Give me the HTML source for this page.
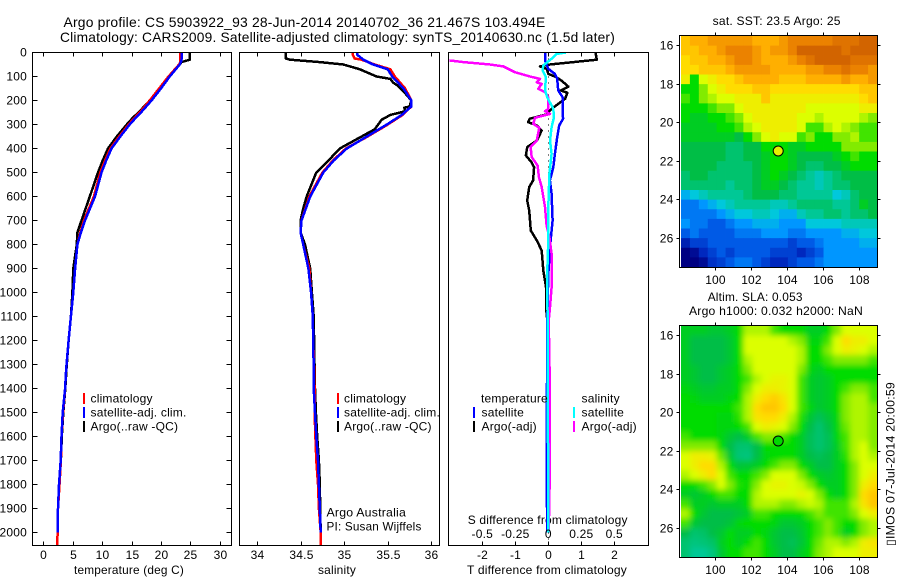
<!DOCTYPE html>
<html>
<head>
<meta charset="utf-8">
<title>Argo profile</title>
<style>
html,body{margin:0;padding:0;background:#fff;}
svg{display:block;}
text{font-family:"Liberation Sans","DejaVu Sans",sans-serif;font-size:12px;fill:#000;letter-spacing:0.2px;}
</style>
</head>
<body>
<svg id="chart" xmlns="http://www.w3.org/2000/svg" width="900" height="580" viewBox="0 0 900 580">
<defs>
<clipPath id="clip-t"><rect x="32.5" y="52.5" width="199" height="493"/></clipPath>
<clipPath id="clip-s"><rect x="239.5" y="52.5" width="200" height="493"/></clipPath>
<clipPath id="clip-d"><rect x="448.5" y="52.5" width="200" height="493"/></clipPath>
<clipPath id="clip-m1"><rect x="681" y="36" width="196" height="231"/></clipPath>
<clipPath id="clip-m2"><rect x="681" y="326" width="196" height="231"/></clipPath>
<filter id="soft" x="-10%" y="-10%" width="120%" height="120%"><feGaussianBlur stdDeviation="3"/></filter>
</defs>
<text x="63.5" y="27" style="font-size:14px" textLength="482" lengthAdjust="spacingAndGlyphs">Argo profile: CS 5903922_93 28-Jun-2014 20140702_36 21.467S 103.494E</text>
<text x="60" y="42" style="font-size:14px" textLength="555" lengthAdjust="spacingAndGlyphs">Climatology: CARS2009. Satellite-adjusted climatology: synTS_20140630.nc (1.5d later)</text>
<text x="74" y="574" textLength="110" lengthAdjust="spacingAndGlyphs">temperature (deg C)</text>
<text x="318" y="574" textLength="38" lengthAdjust="spacingAndGlyphs">salinity</text>
<text x="467" y="574" textLength="160" lengthAdjust="spacingAndGlyphs">T difference from climatology</text>
<text x="467.7" y="524" textLength="160" lengthAdjust="spacingAndGlyphs">S difference from climatology</text>
<text x="326.5" y="516.5" textLength="79.5" lengthAdjust="spacingAndGlyphs">Argo Australia</text>
<text x="326.5" y="530.5" textLength="95" lengthAdjust="spacingAndGlyphs">PI: Susan Wijffels</text>
<text x="712.7" y="25" textLength="128" lengthAdjust="spacingAndGlyphs">sat. SST: 23.5 Argo: 25</text>
<text x="707.7" y="301" textLength="95" lengthAdjust="spacingAndGlyphs">Altim. SLA: 0.053</text>
<text x="689" y="315" textLength="174" lengthAdjust="spacingAndGlyphs">Argo h1000: 0.032 h2000: NaN</text>
<text transform="translate(894.5,546) rotate(-90)" textLength="164" lengthAdjust="spacingAndGlyphs">▯IMOS 07-Jul-2014 20:00:59</text>
</svg>
<script>
// ---- axis tick labels ----
const depthTicks = [0,100,200,300,400,500,600,700,800,900,1000,1100,1200,1300,1400,1500,1600,1700,1800,1900,2000];
const tempTicks = [0,5,10,15,20,25,30];
const salTicks = ['34','34.5','35','35.5','36'];
const tDiffTicks = ['-2','-1','0','1','2'];
const sDiffTicks = ['-0.5','-0.25','0','0.25','0.5'];
const lonTicks = [100,102,104,106,108];
const latTicks = [16,18,20,22,24,26];

// ---- temperature panel ----
const tempDepths = [0,25,30,40,50,100,150,200,250,270,300,350,400,450,500,600,700,750,800,900,1000,1100,1200,1317,1400,1500,1600,1700,1800,1900,2000];
const tempArgo = [24.9,24.9,24.9,23.5,23.2,21.5,19.9,18.1,16.2,15.3,14.2,12.5,11,10.1,9.3,7.9,6.5,5.8,5.7,5.1,4.95,4.7,4.3,3.95,3.75,3.4,3.15,3,2.67,2.5,2.45];
const tempSat = [23.5,23.5,23.5,23.4,23.2,21.5,20,18.4,16.6,15.8,14.7,13.1,11.6,10.7,9.9,8.8,7.1,6.4,5.8,5.4,5.1,4.7,4.3,3.9,3.7,3.3,3.1,2.96,2.67,2.5,2.45];
const tempClimDepths = [0,25,30,40,50,100,150,200,250,270,300,350,400,450,500,600,700,750,800,900,1000,1100,1200,1317,1400,1500,1600,1700,1800,1900,2000,2054];
const tempClim = [23.3,23.3,23.3,23.3,23.1,21.3,19.7,18.1,16.4,15.6,14.5,12.9,11.4,10.5,9.7,8.6,6.9,6.3,5.8,5.4,5.1,4.7,4.3,3.9,3.7,3.35,3.1,3,2.75,2.5,2.45,2.33];

// ---- salinity panel ----
const salDepths = [0,10,30,50,70,100,150,200,225,260,300,350,400,450,500,600,700,750,800,900,1000,1100,1200,1317,1400,1500,1600,1700,1800,1900,2000];
const salSat = [35.15,35.15,35.22,35.33,35.5,35.55,35.68,35.77,35.77,35.66,35.49,35.26,35.03,34.88,34.76,34.61,34.51,34.5,34.53,34.59,34.62,34.64,34.645,34.65,34.65,34.665,34.68,34.7,34.71,34.72,34.73];
const salClimDepths = [0,10,25,30,50,70,100,150,200,225,260,300,350,400,450,500,600,700,750,800,900,1000,1100,1200,1317,1400,1500,1600,1700,1800,1900,2000,2054];
const salClim = [35.1,35.1,35.12,35.2,35.35,35.53,35.58,35.7,35.77,35.77,35.67,35.5,35.27,35.02,34.87,34.75,34.6,34.51,34.5,34.53,34.6,34.62,34.64,34.645,34.655,34.66,34.66,34.67,34.68,34.7,34.71,34.73,34.73];
const salArgoDepths = [0,25,30,40,50,70,100,110,125,140,170,200,225,230,245,260,280,320,350,400,450,500,600,650,700,750,800,900,1000,1100,1200,1317,1400,1500,1600,1700,1800,1900,2000];
const salArgo = [34.33,34.33,34.38,34.72,34.99,35.18,35.37,35.53,35.56,35.62,35.7,35.77,35.75,35.69,35.7,35.53,35.43,35.35,35.2,34.95,34.82,34.68,34.57,34.53,34.5,34.5,34.55,34.61,34.63,34.65,34.655,34.66,34.665,34.675,34.69,34.71,34.72,34.725,34.73];

// ---- difference panel ----
const tArgoDepths = [0,30,40,50,58,68,89,100,117,142,158,168,193,214,235,249,258,276,290,304,325,367,394,429,457,478,533,561,617,658,742,783,825,908,978,1061,1117,1400,2000];
const tArgoDiff = [1.43,1.47,0.76,0.05,-0.25,-0.05,0,0.2,0.4,0.61,0.38,0.58,0.51,0.3,0.1,0,-0.05,-0.56,-0.61,-0.35,-0.2,-0.35,-0.64,-0.68,-0.51,-0.43,-0.46,-0.58,-0.64,-0.58,-0.53,-0.35,-0.2,-0.15,-0.07,-0.07,-0.03,-0.02,-0.02];
const tSatDepths = [0,33,68,89,110,158,186,242,276,304,353,422,478,533,589,700,783,922,1117,1750,2000];
const tSatDiff = [-0.1,-0.1,0,0.2,0.27,0.3,0.43,0.43,0.45,0.33,0.27,0.2,0.15,0.05,0.1,0.13,0.07,0,-0.03,-0.05,-0.03];
const sArgoDepths = [33,40,50,58,82,100,110,124,131,151,165,186,235,244,256,272,297,314,367,394,436,471,519,561,644,721,769,839,922,978,1061,1117,1400,1800,2000];
const sArgoDiff = [-0.75,-0.644,-0.442,-0.341,-0.253,-0.139,-0.063,-0.088,-0.05,-0.076,-0.025,0,0,-0.025,0.013,-0.101,-0.114,-0.068,-0.088,-0.134,-0.126,-0.081,-0.071,-0.05,-0.025,-0.013,0.008,0.025,0.025,0.025,0.013,0.003,0.012,0.01,0.003];
const sSatDepths = [0,6,26,54,75,103,158,186,235,269,311,367,422,506,644,783,922,1117,2000];
const sSatDiff = [0.134,0.063,0.025,-0.038,-0.043,-0.018,-0.025,-0.008,0.038,0.043,0.025,0.013,0.025,0.008,0,0,-0.008,-0.005,0];

// ---- SST map, colour index per cell ----
const sstGrid = [
[10.5,11,11,11.5,11.5,11.5,11.5,11.5,11,11,11,11.5,12,12,12,12,12,12.5,12.5,12.5,13,13],
[10.5,10.5,11,11,11.5,12,12,12,11.5,11,11.5,11.5,12,13,13,13,13,13,12.5,13,13,13],
[10,10.5,10.5,11,11,11.5,12,12,11.5,11,11,11,11.5,12,12.5,13,13,13,13,12.5,12.5,12.5],
[10,10,10.5,10.5,10.5,11,11.5,11.5,11.5,11.5,11,11,11,11,11.5,11.5,12,12,12.5,12,12,11.5],
[9.5,7,9,9.5,10,10,10.5,11,11,11,11,10.5,10.5,10.5,11,11,11,11,11.5,11,11,11.5],
[7,7,8,9,9.5,10,10,10,10.5,10.5,10,10,10,10,10,10,10,10,10,10,10.5,10.5],
[7.5,7,8,8.5,9,9,9.5,9.5,9.5,10.5,9.5,9.5,9.5,9.5,9.5,9.5,9.5,9.5,9.5,9.5,10,10.5],
[7,7,7,7.5,8,8,9,9.5,9.5,9.5,9.5,9.5,9.5,9.5,9,9,9,9,9,9,9.5,9.5],
[7,6.5,6.5,7,7,7.5,8,9,9.5,9.5,9.5,9.5,9.5,9,9,8.5,9,9,9,9,8.5,8],
[6.5,6.5,6.5,6.5,7,7,7.5,8.5,9,9.5,9.5,9.5,9.5,9,7.5,7.5,8.5,9,8.5,8,7.5,7.5],
[6.5,6.5,6.5,6.5,6.5,6.5,6,7,8,9,9.5,9,9,7.5,8,7,7,8,8,8.5,7.5,7.5],
[6,6,6,6,6,5.5,5.5,6,6,7,7,7,6.5,6.5,7,7,7,7,8,8,8,8],
[6,6,6,6,6,5.5,5.5,6,6,6.5,7,7,6.5,6,6,6,6,6.5,7,7.5,7,7],
[6,6,6,6,5.5,5.5,5.5,5.5,6,6.5,7,7,6.5,6,5.5,5.5,6,6,6.5,7,7,7],
[5.5,6,6,5.5,5.5,5.5,5.5,5.5,6,6.5,7,6.5,6,5.5,5,4.5,5,5.5,6,6,6,6],
[5.5,5.5,5.5,5.5,5.5,5,5.5,5.5,6,6.5,6.5,6,5.5,5,5,4.5,5,5.5,5.5,6,6,6],
[3.5,4,4.5,5,5,5,5,5.5,6,6,6,5.5,5.5,5,5,5,5,4,4.5,5.5,6,6],
[2.5,2.5,3,3.5,4,4.5,5,5,5,5,4.5,4.5,5,5.5,5.5,5.5,5.5,5,5,5.5,6.5,6],
[2.5,2.5,2.5,2.5,3,3.5,4,4,4.5,4.5,4,3.5,3.5,4.5,5,5,5.5,5.5,5,5.5,5.5,6],
[3,2.5,2.5,2,2,2.5,3,3,3.5,3.5,3.5,3,3,3,4,4,4,4,4.5,4.5,4.5,4.5],
[2,2.5,2,2,2,2,2.5,2.5,2.5,3,3,3,2.5,2.5,3,3,3,3,3.5,3.5,4,4],
[0.8,1.5,1.5,2,2,2,2,2,2,2,2,2,1.5,2,2,2.5,3,3,3,3,3.5,3.5],
[0,0.3,1,1.5,2,1.5,2,2,2,2,1.5,1.5,1.5,1,1.5,2,3,3,3,3,3,3],
[0,0,0.3,1.2,1.5,2,2.5,2.5,2,1.5,1,1,1.5,2,2,2.5,3,3,3,3,3,3]
];

// ---- SLA map, colour index per cell ----
const slaGrid = [
[6.5,6.5,6.5,6.3,6.3,6.5,7,8.5,8.5,8.5,7.5,7,7,7,6.5,6.5,7,8,9,9,9,9],
[6.5,6,6,6,6,6.3,7,9,9,9,9,9,8.5,8,6.8,6.8,7.5,9,10,9.5,9.5,9],
[6.5,6,6,6,6,6.3,7,9,9,9,9,9,9,8.5,7,7,8,9,9.5,9.3,9,8.5],
[6.5,6,6,6,6,6.3,7,8.5,9,9,9,9,9,8.5,7,7,7.5,8,8,8,8,7.5],
[6.5,6.3,6,6,6.3,6.5,7,8,9,9,9,9,9,8,6.8,6.5,7,7,7,7,7,7],
[6.5,6.3,6,6,6.3,6.5,7,7.5,8.5,9,9.3,9.3,9,7.5,6.5,6.3,6.5,7,7,7,7,7],
[6.8,6.5,6.3,6.3,6.5,6.5,7,8,9,9.5,9.5,9.3,9,7.5,6.5,6.3,6.5,7,7.5,8,8,7.5],
[7,6.8,6.5,6.5,6.5,6.8,7,8.5,9.5,10,10.3,9.8,9,7.5,6.5,6.3,6.5,7,8,8.5,8.5,7.5],
[7,7,7,7,7,7,7.5,8.5,10,10.5,10.5,10,9,7.5,6.8,6.3,6.5,7,8,8.5,8.5,8],
[7,7,7,7,6.8,6.8,7.3,8.5,9.8,10,10,9.5,8.5,7.2,6.3,5.8,6.2,6.8,8,8.5,8.5,8],
[7,7,7,7,6.8,6.8,7,7.5,9,9.5,9.3,9,8,7,6,5.5,6,6.8,7.8,8.5,8.5,8],
[7.5,7,7,7,6.8,6.3,6,6.5,7.5,8,8,7.5,7,6.5,5.8,5.5,5.8,6.8,7.5,8.5,8.5,8],
[8,8,8,8,7,6,5.5,5.5,6,7,7,7,7,6.5,5.8,5.5,5.8,6.5,7.5,8.5,9,8],
[9,9.5,9.5,9.3,7.8,6.3,5.4,5.3,6,6.8,7,7,7,6.5,6,5.8,6,6.5,7.3,8.5,9,8.5],
[9,9.5,10,10,8.5,7,6.2,6.3,6.5,7,7.5,8,8,7,6.5,6,6,6.5,7,8,9,9],
[8.5,9,9.5,10,9,7.5,7,7,7.5,8,9,9,9,8,7,6.5,6.3,6.5,7,8,9,9.5],
[7,7,7.5,8,9,8,7.2,7,8,9,9.3,9.3,9,8.8,8,7,6.5,6.5,7,8,9.5,10],
[6.5,6.3,6.5,7,7.5,7.5,7,7,8.5,9,9,9,9,9.3,9,8,7,6.5,7,8,10,10.5],
[7.5,6.5,6.5,6.3,6.5,6.5,6.5,7,8.5,8.5,8.5,8,8,8.5,8.8,8.5,7.5,7.5,7.5,8.5,9.8,10.5],
[8.5,7,6.3,6,6,6,6.2,6.5,7.5,7.5,7,7,7,7,7.5,8,7.5,7.5,7.5,8,9,9.5],
[7.5,6.3,6,6,6,6.2,6.8,7,7,7,6.8,6.3,6.3,6.5,7,7.5,8,7.5,7,7,8,8.5],
[6,5.5,5.6,6,6.3,7,6.5,6.5,7,6.8,6.3,6,6,6.3,7,7.5,8,7.5,6.5,7,8,8.5],
[5.5,5.3,5.4,5.6,6.5,7,6.5,7,7.5,7,6.3,6,5.8,6.2,7,7.8,8.5,8.5,8,8.5,9.5,9.8],
[5.5,5,5,5.3,6.3,7,7,7.5,7.5,7,6.5,6,6,6.5,7,8,8.5,9,9,9,9.5,9.5]
];

const floatLon = 103.494;
const floatLat = 21.467;

// ---- scales ----
const NS = 'http://www.w3.org/2000/svg';
const svg = document.getElementById('chart');
const yD = d => 52.5 + d * 0.24;
const xT = v => 43.3 + v * 5.88;
const xS = v => 257 + (v - 34) * 87.2;
const xTd = v => 548.3 + v * 33;
const xSd = v => 548.3 + v * 132;
const xLon = l => 715.3 + (l - 100) * 18;
const yLat = (l, top) => top + 10.5 + (l - 16) * 19.3;

function el(tag, parent) {
  const e = document.createElementNS(NS, tag);
  (parent || svg).appendChild(e);
  return e;
}
function tickLine(x1, y1, x2, y2) {
  const t = el('line');
  t.setAttribute('x1', x1); t.setAttribute('y1', y1);
  t.setAttribute('x2', x2); t.setAttribute('y2', y2);
  t.setAttribute('stroke', '#000');
  t.setAttribute('shape-rendering', 'crispEdges');
  
  
}
function label(str, x, y, anchor) {
  const t = el('text');
  t.textContent = str;
  t.setAttribute('x', x); t.setAttribute('y', y);
  if (anchor) t.setAttribute('text-anchor', anchor);
  
  
}
function frame(x, y, w, h, name) {
  const r = el('rect');
  r.setAttribute('x', x); r.setAttribute('y', y);
  r.setAttribute('width', w); r.setAttribute('height', h);
  r.setAttribute('fill', 'none'); r.setAttribute('stroke', '#000');
  r.setAttribute('shape-rendering', 'crispEdges');
  
  
}
function series(depths, vals, xf, color, clip, name, w) {
  const p = el('polyline');
  p.setAttribute('points', vals.map((v, i) => xf(v).toFixed(1) + ',' + yD(depths[i]).toFixed(1)).join(' '));
  p.setAttribute('fill', 'none');
  p.setAttribute('stroke', color);
  p.setAttribute('stroke-width', w || 2.5);
  p.setAttribute('stroke-linejoin', 'round');
  p.setAttribute('shape-rendering', 'crispEdges');
  p.setAttribute('clip-path', 'url(#' + clip + ')');
  
  
}
function legendBar(x, y, color) {
  const r = el('rect');
  r.setAttribute('x', x); r.setAttribute('y', y);
  r.setAttribute('width', 2); r.setAttribute('height', 11);
  r.setAttribute('fill', color);
  
  
}
function legendText(str, x, y) {
  const t = el('text');
  t.textContent = str;
  t.setAttribute('x', x); t.setAttribute('y', y);
  
  
}
const cmap = [[0,0,130],[0,40,190],[0,90,230],[0,150,255],[0,200,220],[0,200,150],[0,190,70],[0,220,0],[130,235,0],[220,255,0],[255,220,0],[255,175,0],[235,130,0],[210,100,0]];
function colorOf(v) {
  const i = Math.max(0, Math.min(12, Math.floor(v)));
  const f = Math.max(0, Math.min(1, v - i));
  const c = cmap[i].map((a, k) => Math.round(a + (cmap[i + 1][k] - a) * f));
  return 'rgb(' + c.join(',') + ')';
}

// ---- profile panel decorations ----
series([0,2054], [0,0], xTd, '#000', 'clip-d', 'zero-line', 1);
svg.lastChild.setAttribute('stroke-dasharray', '1 5');

// temperature
series(tempDepths, tempArgo, xT, '#000', 'clip-t', 'temperature-argo-line');
series(tempClimDepths, tempClim, xT, '#f00', 'clip-t', 'temperature-climatology-line');
series(tempDepths, tempSat, xT, '#00f', 'clip-t', 'temperature-satellite-line');
// salinity
series(salArgoDepths, salArgo, xS, '#000', 'clip-s', 'salinity-argo-line');
series(salClimDepths, salClim, xS, '#f00', 'clip-s', 'salinity-climatology-line');
series(salDepths, salSat, xS, '#00f', 'clip-s', 'salinity-satellite-line');
// differences
series(tArgoDepths, tArgoDiff, xTd, '#000', 'clip-d', 't-diff-argo-line');
series(tSatDepths, tSatDiff, xTd, '#00f', 'clip-d', 't-diff-satellite-line');
series(sArgoDepths, sArgoDiff, xSd, '#f0f', 'clip-d', 's-diff-argo-line');
series(sSatDepths, sSatDiff, xSd, '#0ff', 'clip-d', 's-diff-satellite-line');

frame(32.5, 52.5, 199, 493, 'temperature-panel');
frame(239.5, 52.5, 200, 493, 'salinity-panel');
frame(448.5, 52.5, 200, 493, 'difference-panel');

depthTicks.forEach(d => {
  const y = Math.floor(yD(d)) + 0.5;
  tickLine(32.5, y, 37.5, y);
  tickLine(226.5, y, 231.5, y);
  label(String(d), 27, y + 4, 'end');
});
function xTicks(list, xf) {
  list.forEach(v => {
    const x = Math.round(xf(parseFloat(v))) + 0.5;
    tickLine(x, 52.5, x, 56.5);
    tickLine(x, 541.5, x, 545.5);
    label(String(v), x, 559, 'middle');
  });
}
xTicks(tempTicks, xT);
xTicks(salTicks, xS);
xTicks(tDiffTicks, xTd);
sDiffTicks.forEach(v => label(v, xSd(parseFloat(v)), 538, 'middle'));

// legends
[['climatology','#f00'],['satellite-adj. clim.','#00f'],['Argo(..raw -QC)','#000']].forEach((row, i) => {
  legendBar(83, 393 + i * 14, row[1]);
  legendText(row[0], 90.5, 402.5 + i * 14);
  legendBar(337, 393 + i * 14, row[1]);
  legendText(row[0], 344, 402.5 + i * 14);
});
legendText('temperature', 481, 402.5);
legendText('salinity', 581.5, 402.5);
legendBar(473, 407, '#00f');
legendText('satellite', 481.5, 416.5);
legendBar(473, 421, '#000');
legendText('Argo(-adj)', 481.5, 430.5);
legendBar(573, 407, '#0ff');
legendText('satellite', 581.5, 416.5);
legendBar(573, 421, '#f0f');
legendText('Argo(-adj)', 581.5, 430.5);

// ---- maps ----
function drawMap(grid, top, clip, name, soft, markerFill) {
  const outer = el('g');
  outer.setAttribute('clip-path', 'url(#' + clip + ')');
  
  
  const g = el('g', outer);
  if (soft) g.setAttribute('filter', 'url(#soft)');
  const cw = 196 / grid[0].length;
  const ch = 231 / grid.length;
  grid.forEach((row, r) => row.forEach((v, c) => {
    const cell = el('rect', g);
    const pad = soft ? 14 : 0;
    const x0 = 681 + c * cw - (c === 0 ? pad : 0);
    const x1 = 681 + (c + 1) * cw + (c === row.length - 1 ? pad : 0.4);
    const y0 = top + 1 + r * ch - (r === 0 ? pad : 0);
    const y1 = top + 1 + (r + 1) * ch + (r === grid.length - 1 ? pad : 0.4);
    cell.setAttribute('x', x0.toFixed(2));
    cell.setAttribute('y', y0.toFixed(2));
    cell.setAttribute('width', (x1 - x0).toFixed(2));
    cell.setAttribute('height', (y1 - y0).toFixed(2));
    cell.setAttribute('fill', colorOf(v));
    
    
  }));
  frame(679.5, top + 0.5, 198, 232, name + '-frame');
  lonTicks.forEach(l => {
    const x = Math.round(xLon(l)) + 0.5;
    tickLine(x, top - 2.5, x, top + 0.5);
    tickLine(x, top + 232.5, x, top + 235.5);
    label(String(l), x, top + 249, 'middle');
  });
  latTicks.forEach(l => {
    const y = Math.floor(yLat(l, top)) + 0.5;
    tickLine(676.5, y, 679.5, y);
    tickLine(877.5, y, 880.5, y);
    label(String(l), 673.5, y + 4, 'end');
  });
  const m = el('circle');
  m.setAttribute('cx', xLon(floatLon).toFixed(1));
  m.setAttribute('cy', yLat(floatLat, top).toFixed(1));
  m.setAttribute('r', 5);
  m.setAttribute('fill', markerFill);
  m.setAttribute('stroke', '#000');
  
  
}
drawMap(sstGrid, 35, 'clip-m1', 'sst-map', false, '#e6f000');
drawMap(slaGrid, 325, 'clip-m2', 'sla-map', true, '#00d800');
</script>
</body>
</html>
